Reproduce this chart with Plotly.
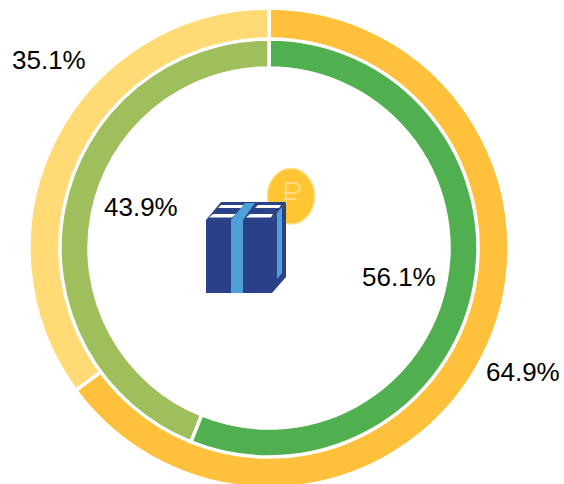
import plotly.graph_objects as go

categories_outer = ["A", "B"]
values_outer = [64.9, 35.1]
colors_outer = ["#FFC13B", "#FFDA75"]
categories_inner = ["C", "D"]
values_inner = [56.1, 43.9]
colors_inner = ["#50B050", "#9FBE5C"]

W, H = 564, 500
CX, CY = 269, 248


def dom(r):
    return dict(x=[(CX - r) / W, (CX + r) / W], y=[1 - (CY + r) / H, 1 - (CY - r) / H])


def px(x):
    return x / W


def py(y):
    return 1 - y / H


def path(points, close=True):
    s = "M " + " L ".join(f"{px(x):.5f},{py(y):.5f}" for x, y in points)
    return s + (" Z" if close else "")


fig = go.Figure()
fig.add_trace(go.Pie(labels=categories_outer, values=values_outer, sort=False, direction="clockwise",
                     rotation=0, hole=208 / 240, domain=dom(240), textinfo="none", hoverinfo="label+percent",
                     marker=dict(colors=colors_outer, line=dict(color="#FFFFFF", width=3.5))))
fig.add_trace(go.Pie(labels=categories_inner, values=values_inner, sort=False, direction="clockwise",
                     rotation=0, hole=180 / 209, domain=dom(209), textinfo="none", hoverinfo="label+percent",
                     marker=dict(colors=colors_inner, line=dict(color="#FFFFFF", width=3.5))))


def poly(points, color):
    return dict(type="path", xref="paper", yref="paper", path=path(points), fillcolor=color, line=dict(width=0))


def stroke(points, color, w):
    return dict(type="path", xref="paper", yref="paper", path=path(points, False), line=dict(color=color, width=w))


shapes = [
    dict(type="circle", xref="paper", yref="paper", x0=px(267.5), x1=px(314.5), y0=py(224), y1=py(168.5),
         fillcolor="#FFC533", line=dict(color="#FFDD80", width=1.5)),
    stroke([(286, 204), (286, 183), (296, 183), (300, 186), (299, 191), (295, 193), (284, 193)], "#FFE29A", 1.5),
    stroke([(283, 199), (296, 199)], "#FFE29A", 1.5),
    poly([(206, 220), (221, 202), (286, 202), (272, 220)], "#2A4288"),
    poly([(272, 220), (286, 202), (286, 277), (272, 293)], "#2A4288"),
    poly([(206, 220), (272, 220), (272, 293), (206, 293)], "#2A4088"),
    poly([(209, 217.5), (232, 217.5), (236, 214), (213, 214)], "#FFFFFF"),
    poly([(246, 217.5), (271, 217.5), (273, 214), (250, 214)], "#FFFFFF"),
    poly([(218, 208), (243, 208), (245, 205), (221, 205)], "#FFFFFF"),
    poly([(255, 208), (279, 208), (281, 205), (258, 205)], "#FFFFFF"),
    poly([(231, 220), (243, 220), (255, 203), (245, 203)], "#4F9FD9"),
    poly([(231, 219), (243, 219), (243, 293), (231, 293)], "#4F9FD9"),
    poly([(277, 213), (282, 207), (282, 273), (277, 279)], "#4F9FD9"),
]

labels = ["35.1%", "64.9%", "43.9%", "56.1%"]
label_x = [49, 523, 141, 399]
label_y = [60, 372, 207, 277]
annotations = [
    dict(text=t, x=px(x), y=py(y), xref="paper", yref="paper", xanchor="center", yanchor="middle", showarrow=False,
         font=dict(family="Liberation Sans, Arial, sans-serif", size=26, color="#000000"))
    for t, x, y in zip(labels, label_x, label_y)
]

fig.update_layout(width=W, height=H, margin=dict(l=0, r=0, t=0, b=0), showlegend=False,
                  paper_bgcolor="#FFFFFF", plot_bgcolor="#FFFFFF", shapes=shapes, annotations=annotations)

fig.write_html("out.html", config={"displayModeBar": False},
               post_script="document.body.style.margin='0';document.documentElement.style.overflow='hidden';document.body.style.overflow='hidden';")
